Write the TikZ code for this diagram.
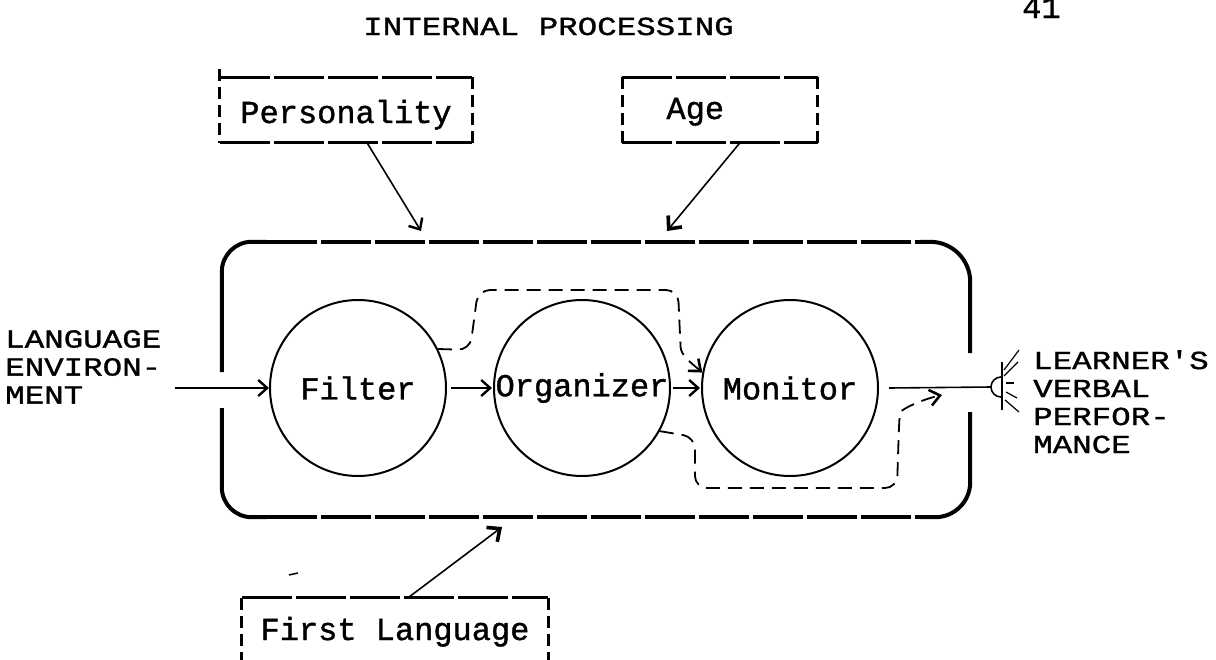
\documentclass[tikz,border=0pt]{standalone}
\usepackage{fontspec}
\setmonofont{Liberation Mono}[FakeBold=1.2]
\newfontfamily\capsfont{Liberation Mono}[FakeStretch=1.25, FakeBold=1.2]
\usetikzlibrary{arrows.meta,calc}
\begin{document}
\begin{tikzpicture}[x=1pt,y=-1pt,
  every node/.style={font=\ttfamily\fontsize{32}{28}\selectfont, inner sep=0pt},
  capstext/.style={font=\capsfont\fontsize{26}{28}\selectfont},
  proc/.style={circle, draw, line width=2pt, minimum size=176pt},
  hdash/.style={line width=3pt, dash pattern=on 50pt off 4pt},
  vdash/.style={line width=3pt, dash pattern=on 12pt off 6pt},
  side/.style={line width=4pt},
  conn/.style={line width=1.6pt, -{Straight Barb[length=9pt,width=16pt,line width=2.4pt]}},
  heavytip/.style={-{Straight Barb[length=10pt,width=18pt,line width=3.6pt]}},
  flow/.style={line width=1.8pt, dash pattern=on 14pt off 8pt, rounded corners=12pt,
    -{Straight Barb[length=10pt,width=16pt,line width=2.6pt]}},
  factor/.style={rectangle, text depth=0pt},
]
\clip (0,0) rectangle (1216,659);
\fill[white] (0,0) rectangle (1216,659);

% titles
\node[capstext, anchor=base west] (title) at (363,35) {INTERNAL PROCESSING};
\node[anchor=base west] (page) at (1022,18) {41};

% factor boxes
\node[factor, minimum width=252pt, minimum height=65pt, text height=26pt] (pers) at (346,110) {Personality};
\node[factor, minimum width=195pt, minimum height=65pt, text height=18pt, text width=107pt, inner xsep=44pt, align=left] (age) at (720,110) {Age};
\node[factor, minimum width=306pt, minimum height=64pt, text height=20pt] (first) at (395,630) {First Language};

\foreach \b in {pers,age}{
  \draw[hdash] (\b.north west) -- (\b.north east);
  \draw[hdash] (\b.south west) -- (\b.south east);
  \draw[vdash] (\b.north east) -- (\b.south east);
}
\draw[vdash] ([yshift=8pt]pers.north west) -- (pers.south west);
\draw[vdash] (age.north west) -- (age.south west);
\draw[hdash] (first.north west) -- (first.north east);
\draw[vdash] (first.north west) -- ([yshift=-20pt]first.south west);
\draw[vdash] (first.north east) -- ([yshift=-20pt]first.south east);

% container
\node[minimum width=748pt, minimum height=275pt] (ip) at (596,379.5) {};
\draw[side, rounded corners=30pt] ([yshift=7.5pt]ip.west) -- (ip.north west) -- ([xshift=45pt]ip.north west);
\draw[hdash, line width=3.5pt] ([xshift=45pt]ip.north west) -- ([xshift=-50pt]ip.north east);
\draw[side, rounded corners=40pt] ([xshift=-50pt]ip.north east) -- (ip.north east) -- ([yshift=26.5pt]ip.east);
\draw[side, rounded corners=35pt] ([yshift=-32.5pt]ip.east) -- (ip.south east) -- ([xshift=-50pt]ip.south east);
\draw[hdash, line width=3.5pt] ([xshift=45pt]ip.south west) -- ([xshift=-50pt]ip.south east);
\draw[side, rounded corners=30pt] ([yshift=-28.5pt]ip.west) -- (ip.south west) -- ([xshift=45pt]ip.south west);

% processes
\node[proc] (filter) at (358,388) {\makebox[0pt]{Filter}};
\node[proc] (org) at (582,388) {\makebox[0pt]{Organizer}};
\node[proc] (mon) at (790,388) {\makebox[0pt]{Monitor}};

% input / output texts
\node[capstext, anchor=north west, align=left] (env) at (5,330) {LANGUAGE\\ENVIRON-\\MENT};
\node[capstext, anchor=north west, align=left] (perf) at (1033,350) {LEARNER'S\\VERBAL\\PERFOR-\\MANCE};

% main connectors
\draw[conn] ($(env.east |- filter.west)+(14,0)$) -- (filter.west);
\draw[conn, shorten <=4pt, shorten >=1pt] (filter) -- (org);
\draw[conn, shorten <=2pt, shorten >=1pt] (org) -- (mon);

% output line and speaker
\draw[line width=1.6pt] ($(mon.east)+(10,0)$) -- (991,387);
\draw[line width=1.6pt] (1001,377) arc[start angle=90,end angle=270,radius=10pt];
\draw[line width=1.8pt] (1002,362) -- (1002,410);
\draw[line width=1.2pt] (1004,370) -- (1019,350);
\draw[line width=1.2pt] (1004,376) -- (1018,362);
\draw[line width=1.2pt] (1006,383) -- (1014,383);
\draw[line width=1.2pt] (1006,392) -- (1017,398);
\draw[line width=1.2pt] (1005,400) -- (1019,412);

% factor arrows
\coordinate (tipP) at (421,231);
\coordinate (tipA) at (667,231);
\coordinate (tipF) at (502,527);
\draw[conn] ([xshift=21pt]pers.south) -- (tipP);
\draw[conn, heavytip] ([xshift=20pt]age.south) -- (tipA);
\draw[conn, heavytip] ([xshift=13pt]first.north) -- (tipF);

% dashed flows
\draw[flow] (filter.26) -- (470,350) -- (478,290) -- (678,290) -- (680,335)
  .. controls (681,355) and (690,362) .. (mon.170);
\coordinate (p2end) at (942,395);
\draw[flow] (org.-29) -- (695,437) -- (695,488) -- (897,488) -- (899,425)
  .. controls (900,410) and (920,400) .. (p2end);

% stray mark
\draw[line width=1.5pt] (289,575) -- (298,573);
\end{tikzpicture}
\end{document}
